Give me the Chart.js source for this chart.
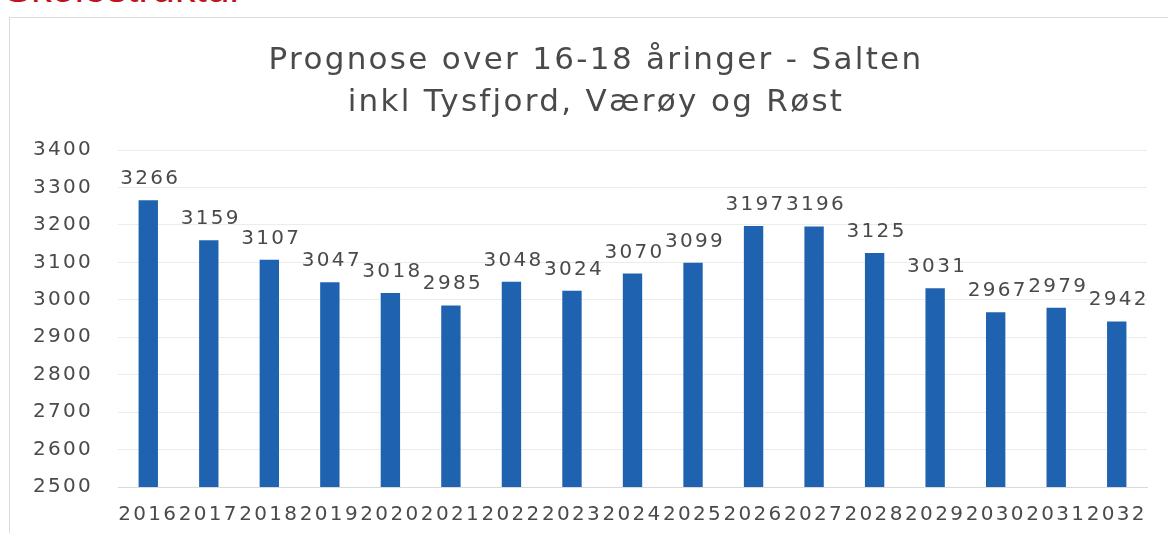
<!DOCTYPE html>
<html>
<head>
<meta charset="utf-8">
<script src="https://cdn.jsdelivr.net/npm/chart.js@4"></script>
<style>
    body { margin: 0; background: #fff; overflow: hidden; }
    #wrap { position: relative; width: 1168px; height: 533px; overflow: hidden; }
    #heading {
        position: absolute; left: 4px; top: -32px;
        font: 41px "Liberation Sans", Arial, sans-serif; line-height: 41px;
        color: #c0141c; white-space: nowrap;
    }
    #frame {
        position: absolute; left: 9px; top: 17px; width: 1200px; height: 600px;
        border: 1px solid #dcdcdc;
    }
    #chartBox { position: absolute; left: 0; top: 0; width: 1168px; height: 533px; }
</style>
</head>
<body>
<div id="wrap">
    <div id="heading">Skolestruktur</div>
    <div id="frame"></div>
    <div id="chartBox"><canvas id="prognose"></canvas></div>
</div>
<script>
// Prognose 16-18 åringer, Salten
const years = ['2016', '2017', '2018', '2019', '2020', '2021', '2022', '2023', '2024',
               '2025', '2026', '2027', '2028', '2029', '2030', '2031', '2032'];
const students = [3266, 3159, 3107, 3047, 3018, 2985, 3048, 3024, 3070,
                  3099, 3197, 3196, 3125, 3031, 2967, 2979, 2942];
const titleLines = ['Prognose over 16-18 åringer - Salten', 'inkl Tysfjord, Værøy og Røst'];
const yMin = 2500;
const yMax = 3400;
const yStep = 100;

const textColor = '#4a4a4a';
const barColor = '#1f62b0';

// wider glyph spacing, like the scanned original
const spacingPlugin = {
    id: 'spacing',
    beforeUpdate(chart) { chart.ctx.letterSpacing = '2.3px'; },
    beforeDraw(chart) { chart.ctx.letterSpacing = '2.3px'; }
};

// title sits a bit right of the canvas centre in the original
const chartTitle = {
    id: 'chartTitle',
    afterDraw(chart) {
        const ctx = chart.ctx;
        ctx.save();
        ctx.font = '31px "DejaVu Sans", sans-serif';
        ctx.fillStyle = textColor;
        ctx.textAlign = 'center';
        ctx.textBaseline = 'middle';
        titleLines.forEach((line, i) => ctx.fillText(line, 596, 61 + i * 42));
        ctx.restore();
    }
};

// value labels above each bar
const valueLabels = {
    id: 'valueLabels',
    afterDatasetsDraw(chart) {
        const ctx = chart.ctx;
        const meta = chart.getDatasetMeta(0);
        ctx.save();
        ctx.font = '20px "DejaVu Sans", sans-serif';
        ctx.fillStyle = textColor;
        ctx.textAlign = 'center';
        ctx.textBaseline = 'alphabetic';
        meta.data.forEach((bar, i) => {
            ctx.fillText(String(students[i]), bar.x + 2, bar.y - 16);
        });
        ctx.restore();
    }
};

new Chart(document.getElementById('prognose'), {
    type: 'bar',
    data: {
        labels: years,
        datasets: [{
            data: students,
            backgroundColor: barColor,
            barPercentage: 0.32,
            categoryPercentage: 1.0
        }]
    },
    options: {
        responsive: true,
        maintainAspectRatio: false,
        animation: false,
        layout: { padding: { left: 0, right: 21, top: 150, bottom: 0 } },
        plugins: {
            legend: { display: false },
            tooltip: { enabled: false },
            title: { display: false }
        },
        scales: {
            x: {
                grid: { display: false, drawTicks: false },
                border: { display: true, color: '#d9d9d9' },
                ticks: {
                    color: textColor,
                    font: { family: '"DejaVu Sans", sans-serif', size: 20 },
                    padding: 16,
                    maxRotation: 0,
                    autoSkip: false
                },
                afterFit(scale) { scale.height = 533 - 487; }
            },
            y: {
                min: yMin,
                max: yMax,
                grid: { color: '#ececec', drawTicks: false },
                border: { display: false },
                ticks: {
                    stepSize: yStep,
                    color: textColor,
                    font: { family: '"DejaVu Sans", sans-serif', size: 20 },
                    padding: 25,
                    callback: (v) => String(v)
                },
                afterFit(scale) { scale.width = 118; }
            }
        }
    },
    plugins: [spacingPlugin, chartTitle, valueLabels]
});
</script>
</body>
</html>
